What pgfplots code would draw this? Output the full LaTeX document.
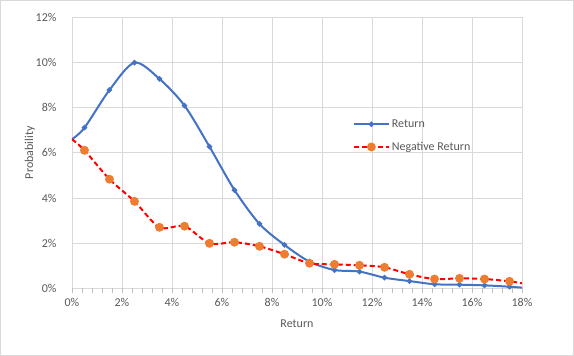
\documentclass[border=0pt]{standalone}
\usepackage{fontspec}
\setmainfont{Carlito}
\usepackage{pgfplots}
\pgfplotsset{compat=1.18}
\definecolor{blueL}{HTML}{4472C4}
\definecolor{orangeM}{HTML}{ED7D31}
\definecolor{redL}{HTML}{FF0000}
\definecolor{gridG}{HTML}{D9D9D9}
\definecolor{axisG}{HTML}{BFBFBF}
\definecolor{textG}{HTML}{595959}
\definecolor{borderG}{HTML}{D9D9D9}
\begin{document}
\begin{tikzpicture}
\begin{axis}[
  scale only axis,
  width=450pt, height=271pt,
  xmin=0, xmax=18, ymin=0, ymax=12,
  xtick={0,2,...,18}, ytick={0,2,...,12},
  minor x tick num=4,
  xticklabel={\pgfmathprintnumber{\tick}\%},
  yticklabel={\pgfmathprintnumber{\tick}\%},
  /pgf/number format/assume math mode=true,
  font=\fontsize{12}{14}\selectfont,
  tick label style={color=textG},
  label style={color=textG},
  grid=major,
  major grid style={color=gridG, line width=0.75pt},
  axis line style={draw=none},
  x axis line style={draw=axisG, line width=0.75pt},
  tick align=outside,
  xtick pos=bottom,
  ytick pos=left,
  major tick length=5pt, minor tick length=5pt,
  x tick style={color=axisG, line width=0.75pt},
  y tick style={draw=none},
  yticklabel style={xshift=-7pt},
  xticklabel style={yshift=-1pt},
  xlabel={Return}, ylabel={Probability},
  xlabel style={at={(axis description cs:0.5,-0.129)}, anchor=center},
  ylabel style={at={(axis description cs:-0.0933,0.5)}, anchor=center},
  legend style={draw=none, fill=none, at={(0.617,0.638)}, anchor=north west,
    font=\fontsize{12}{14}\selectfont, text=textG, row sep=9.3pt,
    nodes={inner sep=2pt}},
  legend cell align=left,
  legend image code/.code={\draw[#1, mark indices={2}] plot coordinates {(0pt,0pt)(17.5pt,0pt)(35pt,0pt)};},
  clip mode=individual,
]
\addplot[color=blueL, line width=2pt, smooth, mark=*, mark size=1.6pt,
  mark options={fill=blueL, draw=blueL}, mark indices={2,...,19}]
  coordinates {
  (0,6.60) (0.5,7.11) (1.5,8.78) (2.5,9.99) (3.5,9.27) (4.5,8.09)
  (5.5,6.27) (6.5,4.35) (7.5,2.85) (8.5,1.92) (9.5,1.18) (10.5,0.81)
  (11.5,0.74) (12.5,0.47) (13.5,0.32) (14.5,0.18) (15.5,0.16) (16.5,0.13)
  (17.5,0.07) (18,0.03)
  };
\addlegendentry{Return}
\addplot[color=redL, line width=2pt, smooth, dash pattern=on 5pt off 3pt,
  mark=*, mark size=3.4pt, mark options={solid, fill=orangeM, draw=orangeM},
  mark indices={2,...,19}]
  coordinates {
  (0,6.60) (0.5,6.11) (1.5,4.83) (2.5,3.85) (3.5,2.70) (4.5,2.75)
  (5.5,1.99) (6.5,2.04) (7.5,1.86) (8.5,1.51) (9.5,1.11) (10.5,1.06)
  (11.5,1.02) (12.5,0.93) (13.5,0.62) (14.5,0.41) (15.5,0.44) (16.5,0.41)
  (17.5,0.31) (18,0.22)
  };
\addlegendentry{Negative Return}
\end{axis}
\draw[color=borderG, line width=0.75pt] (-71.6pt,-67.3pt) rectangle (501.6pt,287.9pt);
\end{tikzpicture}
\end{document}
